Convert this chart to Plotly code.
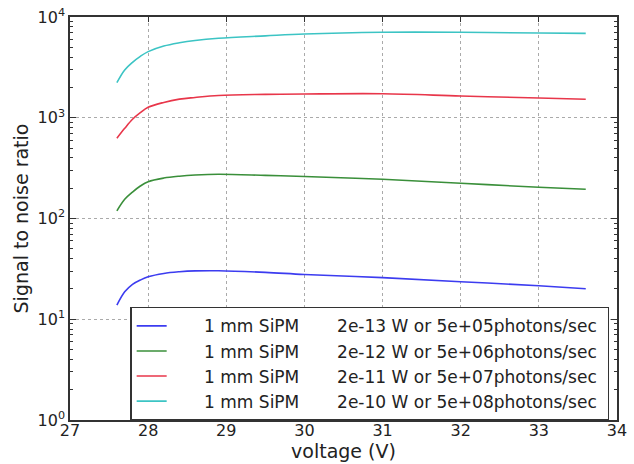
import plotly.graph_objects as go

voltage = [27.6, 27.7, 27.8, 27.9, 28.0, 28.2, 28.4, 28.6, 28.9, 29.5, 30.0, 31.0, 32.0, 33.0, 33.6]
snr_2e13 = [13.8, 18.7, 22.2, 24.5, 26.4, 28.5, 29.6, 30.2, 30.3, 29.2, 27.8, 25.9, 23.6, 21.5, 20.1]
snr_2e12 = [119, 155, 183, 210, 232, 252, 263, 270, 275, 268, 261, 245, 224, 204, 195]
snr_2e11 = [626, 785, 966, 1122, 1270, 1420, 1530, 1590, 1665, 1705, 1720, 1730, 1645, 1570, 1525]
snr_2e10 = [2228, 2978, 3550, 4070, 4530, 5150, 5550, 5850, 6150, 6500, 6780, 7050, 7050, 6930, 6880]

labels = [
    "2e-13 W or 5e+05photons/sec",
    "2e-12 W or 5e+06photons/sec",
    "2e-11 W or 5e+07photons/sec",
    "2e-10 W or 5e+08photons/sec",
]
series = [snr_2e13, snr_2e12, snr_2e11, snr_2e10]
colors = ["#3c3cf0", "#3a8f3a", "#e8364a", "#3cc4c4"]

ytick_vals = [1, 10, 100, 1000, 10000]
ytick_text = ["10<sup>0</sup>", "10<sup>1</sup>", "10<sup>2</sup>", "10<sup>3</sup>", "10<sup>4</sup>"]

NB = "\u00a0"
fig = go.Figure()
for lab, ys, c in zip(labels, series, colors):
    fig.add_trace(go.Scatter(
        x=voltage, y=ys, mode="lines", line=dict(color=c, width=1.6, shape="spline", smoothing=1.0),
        name=NB * 6 + "1 mm SiPM" + NB * 7 + lab + NB,
    ))

fig.update_layout(
    width=634, height=464,
    margin=dict(l=70, r=17, t=17, b=44),
    paper_bgcolor="white", plot_bgcolor="white",
    font=dict(family="DejaVu Sans", color="#222222", size=16),
    showlegend=True,
    legend=dict(
        x=0.110, y=-0.002, xanchor="left", yanchor="bottom",
        bgcolor="white", bordercolor="#333333", borderwidth=1.5,
        font=dict(size=17, family="DejaVu Sans"),
        tracegroupgap=0, itemwidth=30,
    ),
    xaxis=dict(
        range=[27, 34], dtick=1, tick0=27, automargin=False,
        showline=True, linecolor="#333333", linewidth=1.5, mirror="allticks",
        ticks="inside", ticklen=5, tickcolor="#333333",
        ticklabelstandoff=-5,
        showgrid=True, gridcolor="#aaaaaa", griddash="dot", gridwidth=1,
        zeroline=False,
        title=dict(text="voltage (V)", font=dict(size=19), standoff=0),
        tickfont=dict(size=16),
    ),
    yaxis=dict(
        type="log", range=[0, 4], automargin=False,
        tickvals=ytick_vals, ticktext=ytick_text,
        showline=True, linecolor="#333333", linewidth=1.5, mirror="allticks",
        ticks="inside", ticklen=6, tickcolor="#333333",
        minor=dict(ticks="inside", ticklen=3, tickcolor="#333333", showgrid=False,
                   tickvals=[m * 10 ** e for e in range(0, 4) for m in range(2, 10)]),
        showgrid=True, gridcolor="#aaaaaa", griddash="dot", gridwidth=1,
        zeroline=False,
        title=dict(text="Signal to noise ratio", font=dict(size=19), standoff=4),
        tickfont=dict(size=16),
    ),
)

fig.write_html("out.html")
